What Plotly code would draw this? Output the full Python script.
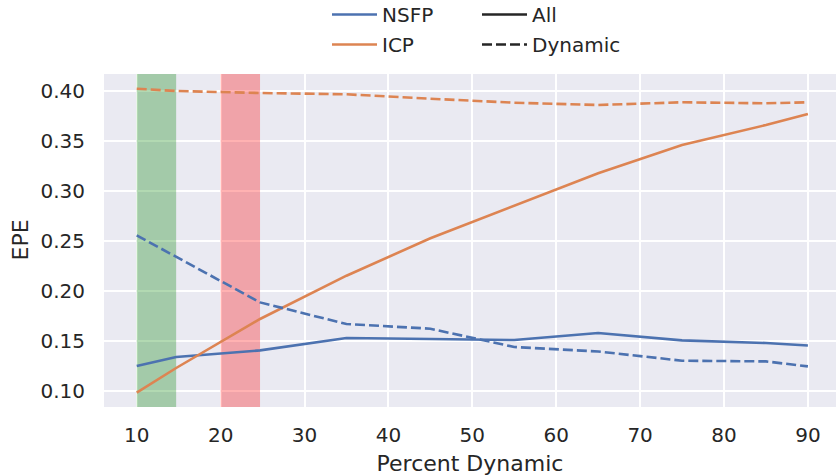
import plotly.graph_objects as go

# Percent of dynamic points in the scene
percent_dynamic = [10, 14.7, 24.7, 35, 45, 55, 65, 75, 85, 90]

# End-point error (EPE) per method, over all points and over dynamic points only
nsfp_all = [0.125, 0.134, 0.1406, 0.153, 0.152, 0.151, 0.158, 0.1506, 0.148, 0.1455]
nsfp_dynamic = [0.2556, 0.234, 0.1886, 0.167, 0.1623, 0.144, 0.1395, 0.1303, 0.1296, 0.1246]
icp_all = [0.0983, 0.123, 0.172, 0.2153, 0.2527, 0.285, 0.3177, 0.346, 0.366, 0.377]
icp_dynamic = [0.4023, 0.400, 0.398, 0.3967, 0.3923, 0.3883, 0.386, 0.3887, 0.3877, 0.3887]

# Highlighted ranges of percent dynamic
green_span = [10, 14.7]
red_span = [20, 24.7]

x_ticks = [10, 20, 30, 40, 50, 60, 70, 80, 90]
y_ticks = [0.10, 0.15, 0.20, 0.25, 0.30, 0.35, 0.40]

X_RANGE = [6.1, 93.35]
Y_RANGE = [0.084, 0.417]

BLUE = "#4C72B0"
ORANGE = "#DD8452"
TEXT = "#262626"
FONT = "DejaVu Sans"
LW = 2.6
DASH = "10px,4px"

fig = go.Figure()

# Shaded spans: filled traces so they sit above the grid and below the lines
for span, fill in [(green_span, "rgba(0,128,0,0.3)"), (red_span, "rgba(255,0,0,0.3)")]:
    x0, x1 = span
    y0, y1 = Y_RANGE
    fig.add_trace(go.Scatter(
        x=[x0, x1, x1, x0, x0], y=[y0, y0, y1, y1, y0],
        mode="lines", fill="toself", fillcolor=fill, line=dict(width=0),
        hoverinfo="skip", showlegend=False,
    ))

series = [
    ("NSFP", nsfp_all, BLUE, "solid"),
    ("ICP", icp_all, ORANGE, "solid"),
    ("NSFP dyn", nsfp_dynamic, BLUE, DASH),
    ("ICP dyn", icp_dynamic, ORANGE, DASH),
]
for name, ys, color, dash in series:
    fig.add_trace(go.Scatter(
        x=percent_dynamic, y=ys, mode="lines", name=name,
        line=dict(color=color, width=LW, dash=dash),
        showlegend=name in ("NSFP", "ICP"),
        legend="legend", legendgroup=name,
    ))

# Line-style keys
for name, dash in [("All", "solid"), ("Dynamic", DASH)]:
    fig.add_trace(go.Scatter(
        x=[None], y=[None], mode="lines", name=name,
        line=dict(color=TEXT, width=LW, dash=dash),
        legend="legend2", legendgroup=name,
    ))

legend_style = dict(
    orientation="v", xref="container", yref="paper",
    yanchor="top", y=1 + 79 / 333, xanchor="left",
    bgcolor="rgba(0,0,0,0)", font=dict(family=FONT, size=20, color=TEXT),
    tracegroupgap=1, itemwidth=45,
)

fig.update_layout(
    width=836, height=476,
    margin=dict(l=104, r=0, t=74, b=69, autoexpand=False),
    paper_bgcolor="white", plot_bgcolor="#EAEAF2",
    font=dict(family=FONT, color=TEXT, size=20),
    legend=dict(legend_style, x=327 / 836),
    legend2=dict(legend_style, x=477 / 836),
)

fig.update_xaxes(
    range=X_RANGE, tickvals=x_ticks, ticktext=[str(v) for v in x_ticks],
    showgrid=True, gridcolor="white", gridwidth=1.6, zeroline=False, automargin=False,
    showline=False, ticks="outside", ticklen=10, tickcolor="rgba(0,0,0,0)",
    tickfont=dict(size=20, family=FONT, color=TEXT),
    title=dict(text="Percent Dynamic", font=dict(size=22, family=FONT, color=TEXT), standoff=9),
)
fig.update_yaxes(
    range=Y_RANGE, tickvals=y_ticks, ticktext=[f"{v:.2f}" for v in y_ticks],
    showgrid=True, gridcolor="white", gridwidth=1.6, zeroline=False, automargin=False,
    showline=False, ticks="outside", ticklen=14, tickcolor="rgba(0,0,0,0)",
    tickfont=dict(size=20, family=FONT, color=TEXT),
)

# y-axis title
fig.add_annotation(
    text="EPE", textangle=-90, xref="paper", yref="paper",
    x=-(104 - 20) / 732, y=0.5, xanchor="center", yanchor="middle",
    showarrow=False, font=dict(size=22, family=FONT, color=TEXT),
)

fig.write_html("out.html")
